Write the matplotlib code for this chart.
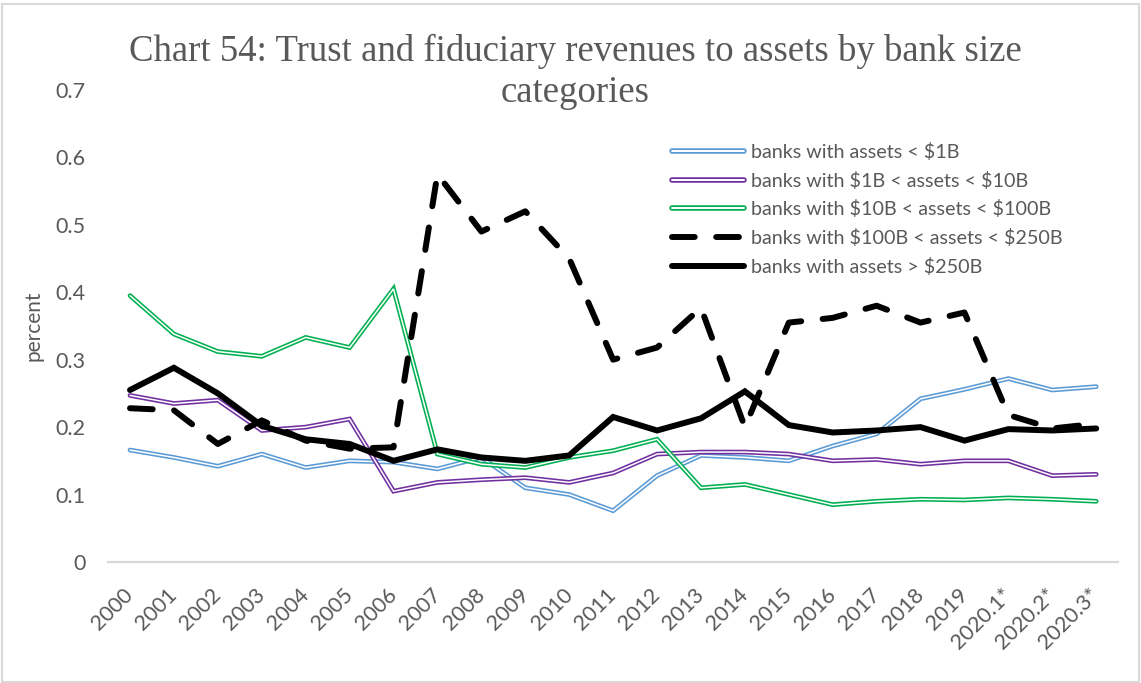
import matplotlib
matplotlib.use("Agg")
import matplotlib.pyplot as plt
import matplotlib.transforms as mtrans
from matplotlib.lines import Line2D
from matplotlib.legend_handler import HandlerTuple
from matplotlib.patches import Rectangle
import numpy as np

categories = ["2000", "2001", "2002", "2003", "2004", "2005", "2006", "2007", "2008",
              "2009", "2010", "2011", "2012", "2013", "2014", "2015", "2016", "2017",
              "2018", "2019", "2020.1*", "2020.2*", "2020.3*"]

lt_1b = [0.166, 0.155, 0.142, 0.160, 0.140, 0.150, 0.148, 0.138, 0.155, 0.110, 0.100,
         0.076, 0.128, 0.158, 0.155, 0.150, 0.172, 0.190, 0.242, 0.256, 0.272, 0.255, 0.260]
b1_10 = [0.247, 0.235, 0.240, 0.195, 0.200, 0.212, 0.105, 0.118, 0.122, 0.125, 0.118,
         0.132, 0.160, 0.163, 0.163, 0.160, 0.150, 0.152, 0.145, 0.150, 0.150, 0.128, 0.130]
b10_100 = [0.395, 0.338, 0.312, 0.305, 0.333, 0.318, 0.405, 0.160, 0.145, 0.140, 0.155,
           0.165, 0.182, 0.110, 0.115, 0.100, 0.085, 0.090, 0.093, 0.092, 0.095, 0.093, 0.090]
b100_250 = [0.228, 0.225, 0.175, 0.210, 0.180, 0.168, 0.170, 0.575, 0.490, 0.520, 0.450,
            0.300, 0.318, 0.377, 0.200, 0.355, 0.362, 0.380, 0.355, 0.370, 0.218, 0.198, 0.205]
gt_250 = [0.255, 0.288, 0.250, 0.202, 0.182, 0.175, 0.150, 0.167, 0.155, 0.150, 0.158,
          0.215, 0.195, 0.213, 0.253, 0.203, 0.192, 0.195, 0.200, 0.180, 0.197, 0.195, 0.198]

labels = ["banks with assets < \\$1B", "banks with \\$1B < assets < \\$10B",
          "banks with \\$10B < assets < \\$100B", "banks with \\$100B < assets < \\$250B",
          "banks with assets > \\$250B"]

yticks = [0, 0.1, 0.2, 0.3, 0.4, 0.5, 0.6, 0.7]
ytick_labels = ["0", "0.1", "0.2", "0.3", "0.4", "0.5", "0.6", "0.7"]

grey = "#595959"
sans = ["Lato", "DejaVu Sans"]

fig = plt.figure(figsize=(11.41, 6.83), dpi=100)
fig.patch.set_facecolor("white")
fig.patches.append(Rectangle((0.002, 0.002), 0.996, 0.992, transform=fig.transFigure,
                             fill=False, edgecolor="#D9D9D9", linewidth=1.5))
ax = fig.add_axes([0.0947, 0.1772, 0.8853, 0.6911])

x = np.arange(len(categories))
handles = []
for vals, col in [(lt_1b, "#5B9BD5"), (b1_10, "#7030A0"), (b10_100, "#00B050")]:
    ax.plot(x, vals, color=col, lw=3.4, solid_joinstyle="miter", solid_capstyle="round", zorder=2)
    ax.plot(x, vals, color="white", lw=1.1, solid_joinstyle="miter", solid_capstyle="round", zorder=2)
    h1 = Line2D([], [], color=col, lw=4.0, solid_capstyle="round")
    h2 = Line2D([], [], color="white", lw=1.4, solid_capstyle="round")
    handles.append((h1, h2))

l4, = ax.plot(x, b100_250, color="black", lw=4.3, dashes=(3.8, 3.6),
              dash_capstyle="round", zorder=3)
l5, = ax.plot(x, gt_250, color="black", lw=4.3, solid_joinstyle="miter",
              solid_capstyle="round", zorder=4)
handles.append(l4)
handles.append(l5)

ax.set_xlim(-0.5, len(categories) - 0.5)
ax.set_ylim(0, 0.7)
ax.set_yticks(yticks)
ax.set_yticklabels(ytick_labels)
ax.set_xticks(x)
ax.set_xticklabels(categories, rotation=45, ha="right", rotation_mode="anchor")

for s in ["top", "right", "left"]:
    ax.spines[s].set_visible(False)
ax.spines["bottom"].set_color("#D9D9D9")
ax.spines["bottom"].set_linewidth(1.6)
ax.tick_params(axis="both", length=0, colors=grey, labelsize=15.5)
ax.tick_params(axis="y", pad=16)
ax.tick_params(axis="x", pad=16)
shift = mtrans.ScaledTranslation(-7 / 100, 0, fig.dpi_scale_trans)
for t in ax.get_xticklabels():
    t.set_transform(t.get_transform() + shift)
for t in ax.get_xticklabels() + ax.get_yticklabels():
    t.set_fontfamily(sans)
    t.set_color(grey)

ax.set_ylabel("percent", fontsize=15, color=grey, family=sans, labelpad=9)

leg = ax.legend(handles, labels, handler_map={tuple: HandlerTuple(ndivide=1, pad=0)},
                loc="upper left", bbox_to_anchor=(0.55, 0.905), frameon=False,
                prop={"family": sans, "size": 14.2}, labelcolor=grey,
                handlelength=3.7, handletextpad=0.35, labelspacing=0.55, borderaxespad=0)

fig.text(0.504, 0.895, "Chart 54: Trust and fiduciary revenues to assets by bank size\ncategories",
         ha="center", va="center", fontsize=26.5, color=grey, family="Liberation Serif",
         linespacing=1.25)

fig.savefig("out.png", dpi=100)
